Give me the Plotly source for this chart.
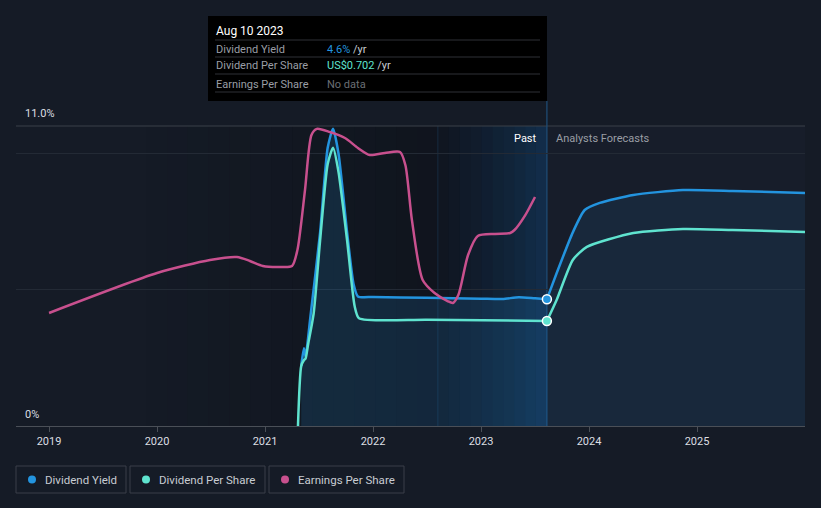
import plotly.graph_objects as go

# ---------------- data ----------------
dy_past_x = [2021.335, 2021.36, 2021.375, 2021.42, 2021.51, 2021.58, 2021.63, 2021.68,
             2021.76, 2021.82, 2021.86, 2022.0, 2022.5, 2023.0, 2023.2, 2023.35, 2023.5, 2023.61]
dy_past_y = [2.2, 2.85, 2.55, 4.0, 7.1, 10.2, 10.9, 10.0,
             7.1, 5.2, 4.75, 4.73, 4.70, 4.67, 4.66, 4.72, 4.68, 4.65]
dy_fc_x = [2023.61, 2023.70, 2023.85, 2023.96, 2024.10, 2024.41, 2024.87, 2025.33, 2026.0]
dy_fc_y = [4.65, 5.6, 7.1, 7.92, 8.18, 8.47, 8.65, 8.62, 8.54]

dps_past_x = [2021.305, 2021.335, 2021.36, 2021.375, 2021.40, 2021.45, 2021.51, 2021.58,
              2021.63, 2021.68, 2021.76, 2021.83, 2021.87, 2022.5, 2023.61]
dps_past_y = [0.0, 0.40, 0.44, 0.45, 0.55, 0.75, 1.24, 1.75,
              1.86, 1.70, 1.24, 0.80, 0.72, 0.71, 0.702]
dps_fc_x = [2023.61, 2023.70, 2023.85, 2023.98, 2024.41, 2024.87, 2025.33, 2026.0]
dps_fc_y = [0.702, 0.842, 1.11, 1.197, 1.29, 1.317, 1.31, 1.297]

eps_x = [2019.0, 2020.0, 2020.49, 2020.74, 2020.86, 2020.98, 2021.14, 2021.25, 2021.30,
         2021.37, 2021.43, 2021.48, 2021.60, 2021.74, 2021.86, 2021.97, 2022.11, 2022.25,
         2022.30, 2022.36, 2022.46, 2022.57, 2022.69, 2022.74, 2022.79, 2022.88, 2022.97,
         2023.13, 2023.27, 2023.31, 2023.41, 2023.50]
eps_y = [0.832, 1.126, 1.222, 1.244, 1.215, 1.178, 1.171, 1.178, 1.296,
         1.737, 2.142, 2.187, 2.164, 2.120, 2.047, 1.995, 2.010, 2.017,
         1.92, 1.517, 1.075, 0.979, 0.920, 0.906, 0.964, 1.259, 1.399,
         1.414, 1.421, 1.443, 1.553, 1.686]

year_ticks = [2019, 2020, 2021, 2022, 2023, 2024, 2025]
year_labels = ["2019", "2020", "2021", "2022", "2023", "2024", "2025"]

past_end = 2023.61
band_start = 2022.6

# ---------------- layout helpers ----------------
W, H = 821, 508
L, R, T, B = 16, 16, 100, 82
PW, PH = W - L - R, H - T - B


def px(xp):
    return (xp - L) / PW


def py(yp):
    return (H - B - yp) / PH


BLUE = "#2394df"
CYAN = "#5fe3cf"
PINK = "#c8508e"
FONT = "Roboto"

fig = go.Figure()

fig.add_trace(go.Scatter(x=dy_past_x, y=dy_past_y, mode="lines", line=dict(color=BLUE, width=2.5, shape="spline", smoothing=0.6),
                         fill="tozeroy", fillcolor="rgba(35,140,215,0.16)", hoverinfo="skip", yaxis="y"))
fig.add_trace(go.Scatter(x=dy_fc_x, y=dy_fc_y, mode="lines", line=dict(color=BLUE, width=2.5, shape="spline", smoothing=0.6),
                         fill="tozeroy", fillcolor="rgba(35,140,215,0.10)", hoverinfo="skip", yaxis="y"))
fig.add_trace(go.Scatter(x=dps_past_x, y=dps_past_y, mode="lines", line=dict(color=CYAN, width=2.5, shape="spline", smoothing=0.6),
                         hoverinfo="skip", yaxis="y2"))
fig.add_trace(go.Scatter(x=dps_fc_x, y=dps_fc_y, mode="lines", line=dict(color=CYAN, width=2.5, shape="spline", smoothing=0.6),
                         hoverinfo="skip", yaxis="y2"))
fig.add_trace(go.Scatter(x=eps_x, y=eps_y, mode="lines", line=dict(color=PINK, width=2.5, shape="spline", smoothing=0.7),
                         hoverinfo="skip", yaxis="y3"))
fig.add_trace(go.Scatter(x=[dy_past_x[-1]], y=[dy_past_y[-1]], mode="markers",
                         marker=dict(color=BLUE, size=9, line=dict(color="white", width=1.5)), hoverinfo="skip", yaxis="y"))
fig.add_trace(go.Scatter(x=[dps_past_x[-1]], y=[dps_past_y[-1]], mode="markers",
                         marker=dict(color=CYAN, size=9, line=dict(color="white", width=1.5)), hoverinfo="skip", yaxis="y2"))

shapes = []
# forecast region slight lighter
shapes.append(dict(type="rect", xref="x", yref="paper", x0=past_end, x1=2026.0, y0=0, y1=py(126),
                   fillcolor="rgba(40,52,72,0.12)", line_width=0, layer="below"))
# dark gradient over past region
n = 14
gx0, gx1 = 2019.9, band_start
for i in range(n):
    a = 0.3 * (i + 1) / n
    x0 = gx0 + (gx1 - gx0) * i / n
    x1 = gx0 + (gx1 - gx0) * (i + 1) / n
    shapes.append(dict(type="rect", xref="x", yref="paper", x0=x0, x1=x1, y0=0, y1=py(126),
                       fillcolor=f"rgba(5,8,12,{a:.3f})", line_width=0, layer="below"))
shapes.append(dict(type="rect", xref="x", yref="paper", x0=band_start, x1=past_end, y0=0, y1=py(126),
                   fillcolor="rgba(5,8,12,0.3)", line_width=0, layer="below"))
# highlight band gradient
m = 10
for i in range(m):
    a = 0.02 + 0.34 * ((i + 1) / m) ** 1.3
    x0 = band_start + (past_end - band_start) * i / m
    x1 = band_start + (past_end - band_start) * (i + 1) / m
    shapes.append(dict(type="rect", xref="x", yref="paper", x0=x0, x1=x1, y0=0, y1=py(126),
                       fillcolor=f"rgba(22,90,150,{a:.3f})", line_width=0, layer="below"))
shapes.append(dict(type="line", xref="x", yref="paper", x0=band_start, x1=band_start, y0=0, y1=py(126),
                   line=dict(color="rgba(40,90,130,0.35)", width=1), layer="below"))
# top 11% line
shapes.append(dict(type="line", xref="paper", yref="paper", x0=0, x1=1, y0=py(126), y1=py(126),
                   line=dict(color="#3b4049", width=1), layer="below"))
# past/forecast divider
shapes.append(dict(type="line", xref="x", yref="paper", x0=past_end, x1=past_end, y0=0, y1=py(101),
                   line=dict(color="#1f4e78", width=1.2), layer="below"))

# tooltip
shapes.append(dict(type="rect", xref="paper", yref="paper", x0=px(208), x1=px(547), y0=py(16), y1=py(101),
                   fillcolor="#000000", line_width=0, layer="above"))
for yy in [40, 57, 74, 92]:
    shapes.append(dict(type="line", xref="paper", yref="paper", x0=px(215), x1=px(540), y0=py(yy), y1=py(yy),
                       line=dict(color="#2e3136", width=1), layer="above"))

# legend boxes
legend_items = [("Dividend Yield", BLUE, 16, 126), ("Dividend Per Share", CYAN, 130, 265),
                ("Earnings Per Share", PINK, 269, 404)]
annotations = []
for name, col, x0, x1 in legend_items:
    shapes.append(dict(type="rect", xref="paper", yref="paper", x0=px(x0), x1=px(x1), y0=py(466), y1=py(493),
                       fillcolor="rgba(0,0,0,0)", line=dict(color="#3a3f48", width=1)))
    shapes.append(dict(type="circle", xref="paper", yref="paper", x0=px(x0 + 12), x1=px(x0 + 20),
                       y0=py(483.5), y1=py(475.5), fillcolor=col, line_width=0))
    annotations.append(dict(xref="paper", yref="paper", x=px(x0 + 27), y=py(479.5), xanchor="left", yanchor="middle",
                            text=name, showarrow=False, font=dict(family=FONT, size=11.5, color="#c8ccd2")))

# tooltip text
annotations.append(dict(xref="paper", yref="paper", x=px(214), y=py(31), xanchor="left", yanchor="middle",
                        text="Aug 10 2023", showarrow=False, font=dict(family=FONT, size=12, color="#ffffff")))
rows = [("Dividend Yield", f"<span style='color:{BLUE}'>4.6%</span> /yr", 49),
        ("Dividend Per Share", f"<span style='color:{CYAN}'>US$0.702</span> /yr", 66),
        ("Earnings Per Share", "<span style='color:#6b6f75'>No data</span>", 84)]
for lab, val, yy in rows:
    annotations.append(dict(xref="paper", yref="paper", x=px(214), y=py(yy), xanchor="left", yanchor="middle",
                            text=lab, showarrow=False, font=dict(family=FONT, size=11, color="#9a9ea5")))
    annotations.append(dict(xref="paper", yref="paper", x=px(325), y=py(yy), xanchor="left", yanchor="middle",
                            text=val, showarrow=False, font=dict(family=FONT, size=11, color="#c8ccd2")))

# y labels
annotations.append(dict(xref="paper", yref="paper", x=px(23), y=py(114), xanchor="left", yanchor="middle",
                        text="11.0%", showarrow=False, font=dict(family=FONT, size=11, color="#dcdfe3")))
annotations.append(dict(xref="paper", yref="paper", x=px(23), y=py(414), xanchor="left", yanchor="middle",
                        text="0%", showarrow=False, font=dict(family=FONT, size=11, color="#dcdfe3")))
# past / forecasts
annotations.append(dict(xref="x", yref="paper", x=past_end, y=py(138), xanchor="right", yanchor="middle", xshift=-8,
                        text="Past", showarrow=False, font=dict(family=FONT, size=11, color="#ffffff")))
annotations.append(dict(xref="x", yref="paper", x=past_end, y=py(138), xanchor="left", yanchor="middle", xshift=7,
                        text="Analysts Forecasts", showarrow=False, font=dict(family=FONT, size=11, color="#9a9ea5")))

fig.update_layout(
    width=W, height=H,
    margin=dict(l=L, r=R, t=T, b=B),
    paper_bgcolor="#151b26", plot_bgcolor="#151b26",
    showlegend=False,
    shapes=shapes, annotations=annotations,
    xaxis=dict(range=[2018.694, 2026.0], tickvals=year_ticks, ticktext=year_labels,
               showgrid=False, zeroline=False, showline=True, linecolor="#4a4f57", linewidth=1,
               ticks="outside", ticklen=5, tickcolor="#4a4f57",
               tickfont=dict(family=FONT, size=11, color="#dcdfe3"), fixedrange=True),
    yaxis=dict(range=[0, 11.953], tickvals=[0, 5, 10], showticklabels=False, showgrid=True,
               gridcolor="#232a35", gridwidth=1, zeroline=False, fixedrange=True),
    yaxis2=dict(range=[0, 2.179], overlaying="y", visible=False, fixedrange=True),
    yaxis3=dict(range=[0, 2.4], overlaying="y", visible=False, fixedrange=True),
)

fig.write_html("out.html")
